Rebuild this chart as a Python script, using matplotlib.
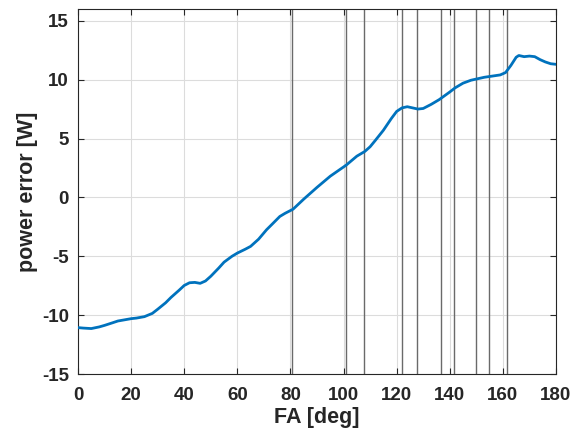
import matplotlib.pyplot as plt

# curve
fa_deg = [0, 2, 5, 8, 10, 13, 15, 18, 20, 22, 25, 28, 30, 33, 35, 38, 40, 42, 44, 46, 48, 50,
          53, 55, 58, 60, 63, 65, 68, 71, 73, 76, 78, 81, 85, 90, 95, 101, 105, 108, 110, 112,
          115, 118, 120, 122, 124, 126, 128, 130, 133, 136, 140, 142, 145, 148, 150, 153, 156,
          159, 161, 163, 165, 166, 168, 170, 172, 174, 176, 178, 180]
power_err = [-11.06, -11.1, -11.14, -11.0, -10.87, -10.65, -10.5, -10.38, -10.3, -10.25, -10.13,
             -9.85, -9.5, -8.95, -8.5, -7.9, -7.48, -7.25, -7.22, -7.3, -7.1, -6.7,
             -6.0, -5.5, -5.0, -4.73, -4.4, -4.16, -3.55, -2.75, -2.3, -1.62, -1.35, -1.0, -0.15,
             0.85, 1.8, 2.74, 3.5, 3.9, 4.3, 4.85, 5.7, 6.7, 7.3, 7.6, 7.7, 7.6, 7.5, 7.55, 7.9,
             8.3, 8.95, 9.3, 9.7, 9.95, 10.05, 10.2, 10.3, 10.4, 10.6, 11.2, 11.9, 12.05, 11.95,
             12.0, 11.95, 11.7, 11.5, 11.35, 11.3]

# darker vertical marker lines
marker_fa = [80.7, 101.0, 107.7, 121.9, 127.8, 136.8, 141.7, 149.8, 154.8, 161.6]

plt.rcParams['font.family'] = ['Liberation Sans', 'DejaVu Sans']
plt.rcParams['font.weight'] = 'bold'
plt.rcParams['axes.unicode_minus'] = False

fig = plt.figure(figsize=(5.8, 4.38), dpi=100)
ax = fig.add_axes([0.1345, 0.1461, 0.8241, 0.8334])

for x in marker_fa:
    ax.axvline(x, color='#6a6a6a', linewidth=1.0, zorder=2)

ax.plot(fa_deg, power_err, color='#0072BD', linewidth=2.0, zorder=3)

ax.set_xlim(0, 180)
ax.set_ylim(-15, 16)
ax.set_xticks(range(0, 181, 20))
ax.set_yticks(range(-15, 16, 5))
ax.grid(True, color='#dcdcdc', linewidth=0.8, zorder=0)
ax.set_axisbelow(True)

for s in ax.spines.values():
    s.set_color('#262626')
    s.set_linewidth(0.8)
ax.tick_params(direction='in', top=True, right=True, length=4, width=0.8,
               colors='#262626', labelsize=13.5)
ax.tick_params(axis='x', pad=9.5)
ax.tick_params(axis='y', pad=6.5)
for lbl in ax.get_xticklabels() + ax.get_yticklabels():
    lbl.set_fontweight('bold')

ax.set_xlabel('FA [deg]', fontsize=15.5, fontweight='bold', color='#262626', labelpad=2)
ax.set_ylabel('power error [W]', fontsize=15.5, fontweight='bold', color='#262626', labelpad=3)

plt.savefig('out.png', dpi=100)
